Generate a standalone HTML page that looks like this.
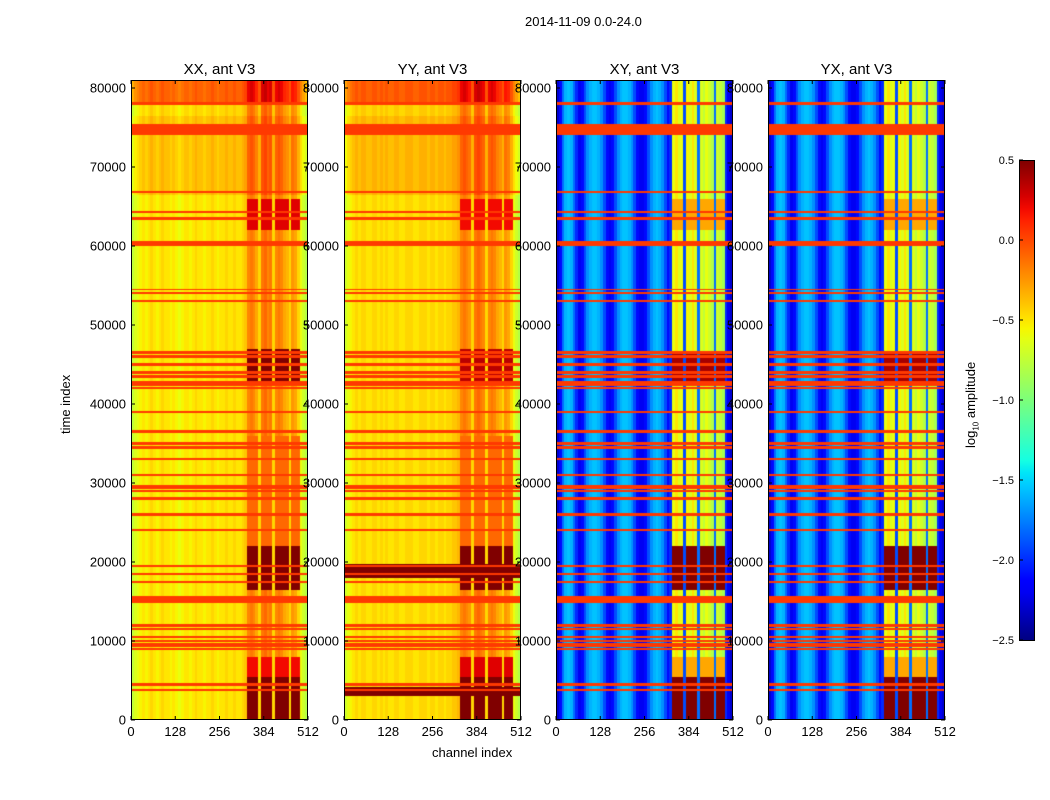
<!DOCTYPE html>
<html><head><meta charset="utf-8">
<style>
body{margin:0;background:#fff;font-family:"Liberation Sans",sans-serif;}
#root{position:relative;width:1050px;height:800px;overflow:hidden;background:#fff;}
.t{position:absolute;font-size:13px;color:#000;white-space:nowrap;}
canvas{position:absolute;}
</style></head><body>
<div id="root">
<div class="t" style="left:525px;top:14px;">2014-11-09 0.0-24.0</div>
<div class="t" style="left:432px;top:745px;">channel index</div>
<div class="t" style="left:58px;top:434px;transform:rotate(-90deg);transform-origin:0 0;">time index</div>
<div class="t" style="left:963px;top:448px;transform:rotate(-90deg);transform-origin:0 0;">log<sub style="font-size:8px">10</sub> amplitude</div>
<svg id="ov" width="1050" height="800" style="position:absolute;left:0;top:0;"></svg>
</div>
<script>
// ---- data ----
const panelTitles=["XX, ant V3","YY, ant V3","XY, ant V3","YX, ant V3"];
const yTicks=[0,10000,20000,30000,40000,50000,60000,70000,80000];
const xTicks=[0,128,256,384,512];
const cbTicks=[-2.5,-2.0,-1.5,-1.0,-0.5,0.0,0.5];
// channel profiles (64 bins x 8 channels), log10 amplitude
const profileXX=[-0.75,-0.65,-0.6,-0.55,-0.5,-0.55,-0.5,-0.45,-0.5,-0.55,-0.5,-0.45,-0.5,-0.5,-0.55,-0.5,-0.55,-0.6,-0.55,-0.5,-0.5,-0.55,-0.5,-0.45,-0.5,-0.5,-0.55,-0.5,-0.5,-0.45,-0.5,-0.55,-0.5,-0.5,-0.45,-0.5,-0.5,-0.45,-0.5,-0.5,-0.45,-0.4,-0.2,-0.15,-0.2,-0.3,-0.45,-0.15,-0.1,-0.2,-0.15,-0.45,-0.2,-0.15,-0.2,-0.3,-0.35,-0.45,-0.25,-0.3,-0.45,-0.6,-0.7,-0.8];
const profileYY=[-0.7,-0.6,-0.55,-0.5,-0.45,-0.5,-0.45,-0.45,-0.5,-0.5,-0.45,-0.45,-0.5,-0.45,-0.5,-0.45,-0.5,-0.5,-0.45,-0.45,-0.5,-0.5,-0.45,-0.45,-0.45,-0.5,-0.5,-0.45,-0.45,-0.45,-0.5,-0.45,-0.45,-0.5,-0.45,-0.45,-0.5,-0.45,-0.45,-0.4,-0.4,-0.35,-0.2,-0.15,-0.2,-0.25,-0.45,-0.15,-0.1,-0.15,-0.2,-0.45,-0.2,-0.15,-0.2,-0.3,-0.35,-0.45,-0.25,-0.3,-0.45,-0.6,-0.7,-0.8];
const profileCross=[-2.3,-2.1,-1.8,-1.6,-1.55,-1.6,-1.8,-2.0,-2.2,-2.1,-1.9,-1.7,-1.6,-1.55,-1.55,-1.6,-1.7,-1.9,-2.1,-2.2,-2.1,-1.9,-1.7,-1.6,-1.55,-1.55,-1.6,-1.7,-1.9,-2.1,-2.2,-2.2,-2.1,-1.9,-1.7,-1.6,-1.55,-1.6,-1.7,-1.9,-2.1,-2.0,-0.6,-0.5,-0.65,-0.6,-1.9,-0.55,-0.65,-0.5,-0.65,-1.8,-0.65,-0.75,-0.6,-0.7,-0.8,-1.8,-0.7,-0.75,-0.85,-2.0,-2.2,-2.3];
// time segments: [start, end, offset] applied to parallel hands
const timeOffsetsPar=[[66500,81000,0.12],[76500,78000,-0.08],[78000,81000,0.3]];
// strong RFI bands in channels 336-488: [start,end,value] per panel
const rfiXX=[[62000,66000,0.25],[42500,47000,0.5],[22000,36000,-0.1],[16500,22000,0.5],[5500,8000,0.2],[0,5500,0.5]];
const rfiYY=[[62000,66000,0.2],[42500,47000,0.35],[22000,36000,-0.1],[16500,22000,0.5],[5500,8000,0.25],[0,5500,0.5]];
const rfiCross=[[62000,66000,-0.3],[42500,46500,0.4],[16500,22000,0.5],[5500,8000,-0.3],[0,5500,0.5]];
// full-width bands (YY)
const fullBandsYY=[[18000,19700,0.5],[3000,4200,0.5]];
// flagged lines
const lineTimes=[78000,75000,74300,66800,64300,63500,60300,54500,54000,53000,46500,46000,45000,44000,43500,42600,42000,39000,36500,35000,34500,33000,31000,29500,29000,28000,26000,24000,19500,18500,17500,15500,15000,12000,11500,10500,10000,9500,9000,4500,3800];
const lineWidths=[200,500,250,150,150,150,350,120,120,120,150,150,150,150,150,350,150,120,150,200,150,120,120,200,150,200,200,120,150,150,150,250,150,200,150,150,150,200,150,150,150];
const lineValues=lineTimes.map(()=>0.05);

// ---- rendering ----
const panels=[{x:131,title:0,prof:profileXX,par:true,rfi:rfiXX,full:[]},
{x:344,title:1,prof:profileYY,par:true,rfi:rfiYY,full:fullBandsYY},
{x:556,title:2,prof:profileCross,par:false,rfi:rfiCross,full:[]},
{x:768,title:3,prof:profileCross,par:false,rfi:rfiCross,full:[]}];
const PW=177,PT=80,PB=720;
const yOf=t=>720-t/80000*632;
const xOf=(p,c)=>p.x+c/512*PW;
const segR=[[0,0],[0.35,0],[0.66,1],[0.89,1],[1,0.5]];
const segG=[[0,0],[0.125,0],[0.375,1],[0.64,1],[0.91,0],[1,0]];
const segB=[[0,0.5],[0.11,1],[0.34,1],[0.65,0],[1,0]];
function seg(s,f){for(let i=1;i<s.length;i++){if(f<=s[i][0]){const a=s[i-1],b=s[i];return a[1]+(b[1]-a[1])*(f-a[0])/(b[0]-a[0]);}}return s[s.length-1][1];}
function jet(v){let f=(v+2.5)/3;f=Math.max(0,Math.min(1,f));
 return [seg(segR,f)*255,seg(segG,f)*255,seg(segB,f)*255];}
const root=document.getElementById('root');
const ov=document.getElementById('ov');
const NS='http://www.w3.org/2000/svg';
function sv(tag,a){const e=document.createElementNS(NS,tag);for(const k in a)e.setAttribute(k,a[k]);ov.appendChild(e);return e;}
panels.forEach((p,pi)=>{
 const cv=document.createElement('canvas');cv.width=PW;cv.height=PB-PT;
 cv.style.left=p.x+'px';cv.style.top=PT+'px';
 
 
 root.insertBefore(cv,ov);
 const ctx=cv.getContext('2d');const img=ctx.createImageData(PW,PB-PT);
 for(let py=0;py<PB-PT;py++){
  const t=(720-(py+PT+0.5))/632*80000;
  let off=0;
  if(p.par)timeOffsetsPar.forEach(s=>{if(t>=s[0]&&t<s[1])off+=s[2];});
  let lineV=null;
  lineTimes.forEach((lt,i)=>{if(Math.abs(t-lt)<lineWidths[i])lineV=lineValues[i];});
  let fullV=null;p.full.forEach(s=>{if(t>=s[0]&&t<s[1])fullV=s[2];});
  let rfiV=null;p.rfi.forEach(s=>{if(t>=s[0]&&t<s[1])rfiV=s[2];});
  for(let px=0;px<PW;px++){
   const ch=(px+0.5)/PW*512;const b=Math.min(63,Math.floor(ch/8));
   let v=p.prof[b]+off;
   const inRfi=ch>=336&&ch<488&&!(b==46||b==51||b==57);
   if(rfiV!==null&&inRfi)v=Math.max(v,rfiV);
   if(fullV!==null)v=fullV;
   if(lineV!==null)v=lineV;
   const c=jet(v),k=(py*PW+px)*4;
   img.data[k]=c[0];img.data[k+1]=c[1];img.data[k+2]=c[2];img.data[k+3]=255;
  }}
 ctx.putImageData(img,0,0);
 const fr=sv('rect',{x:p.x+0.5,y:PT+0.5,width:PW-1,height:PB-PT-1,fill:'none',stroke:'#000','stroke-width':1});
 
 
 const tt=sv('text',{x:p.x+PW/2,y:74,'text-anchor':'middle','font-size':15,'font-family':'Liberation Sans, sans-serif'});
 tt.textContent=panelTitles[p.title];
 
 
 yTicks.forEach(v=>{const y=yOf(v);
  sv('line',{x1:p.x,x2:p.x+4,y1:y,y2:y,stroke:'#000'});
  sv('line',{x1:p.x+PW-4,x2:p.x+PW,y1:y,y2:y,stroke:'#000'});
  const l=sv('text',{x:p.x-5,y:y+4.5,'text-anchor':'end','font-size':13,'font-family':'Liberation Sans, sans-serif'});
  l.textContent=v;
  
  });
 xTicks.forEach(v=>{const x=xOf(p,v);
  sv('line',{x1:x,x2:x,y1:PB,y2:PB-4,stroke:'#000'});
  sv('line',{x1:x,x2:x,y1:PT,y2:PT+4,stroke:'#000'});
  const l=sv('text',{x:x,y:736,'text-anchor':'middle','font-size':13,'font-family':'Liberation Sans, sans-serif'});
  l.textContent=v;
  
  });
});
// colorbar
const CX=1019,CW=15,CT=160,CB=640;
const defs=sv('defs',{});const g=document.createElementNS(NS,'linearGradient');
g.setAttribute('id','jetg');g.setAttribute('x1','0');g.setAttribute('y1','1');g.setAttribute('x2','0');g.setAttribute('y2','0');
for(let i=0;i<=40;i++){const v=-2.5+3*i/40;const c=jet(v);const s=document.createElementNS(NS,'stop');
 s.setAttribute('offset',i/40);s.setAttribute('stop-color','rgb('+c.map(Math.round).join(',')+')');g.appendChild(s);}
defs.appendChild(g);
const cb=sv('rect',{x:CX+0.5,y:CT+0.5,width:CW,height:CB-CT,fill:'url(#jetg)',stroke:'#000'});


cbTicks.forEach(v=>{const y=CB-(v+2.5)/3*(CB-CT);
 sv('line',{x1:CX,x2:CX+4,y1:y,y2:y,stroke:'#000'});
 const l=sv('text',{x:CX-5,y:y+4,'text-anchor':'end','font-size':11,'font-family':'Liberation Sans, sans-serif'});
 l.textContent=v.toFixed(1).replace('-','\u2212');
 
 });
</script>
</body></html>
